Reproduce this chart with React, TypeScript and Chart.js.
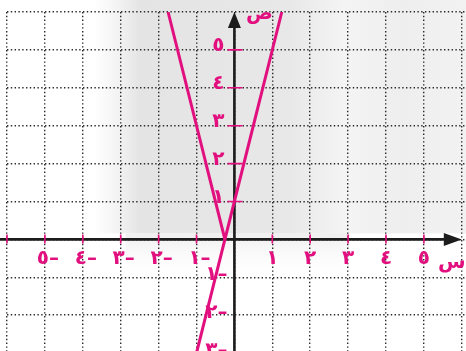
import React, { useEffect, useRef } from "react";
import { Chart, registerables } from "chart.js";

Chart.register(...registerables);

// ---- data ----
const X_MIN = -6;
const X_MAX = 6.111;
const Y_MIN = -2.945;
const Y_MAX = 6;

// rising line y = 4x + 1
const riseX = [-1, 1.25];
const riseY = [-3, 6];
// falling branch y = -4x - 1 (ends on the x axis)
const fallX = [-1.75, -0.25];
const fallY = [6, 0];

const xTickValues = [-5, -4, -3, -2, -1, 1, 2, 3, 4, 5];
const xTickLabels = ["٥–", "٤–", "٣–", "٢–", "١–", "١", "٢", "٣", "٤", "٥"];
const xTickMarks = [-6, -5, -4, -3, -2, -1, 1, 2, 3, 4, 5];
const yTickValues = [-3, -2, -1, 1, 2, 3, 4, 5];
const yTickLabels = ["٣–", "٢–", "١–", "١", "٢", "٣", "٤", "٥"];
const yTickMarks = [1, 2, 3, 4, 5];
const xAxisName = "س";
const yAxisName = "ص";
const ARROW_AT = 6;

const PINK = "#e2107f";
const AXIS = "#1c1c1c";
const FONT = 'bold 20px "DejaVu Sans", sans-serif';

const backgroundPlugin = {
  id: "bgPhoto",
  beforeDraw(chart: any) {
    const { ctx, width, height } = chart;
    const y0 = chart.scales.y.getPixelForValue(0);
    ctx.save();
    ctx.fillStyle = "#ffffff";
    ctx.fillRect(0, 0, width, height);
    const g = ctx.createLinearGradient(0, 0, width, 0);
    g.addColorStop(0, "rgba(236,236,236,0)");
    g.addColorStop(0.2, "rgba(236,236,236,0)");
    g.addColorStop(0.3, "rgba(228,228,228,1)");
    g.addColorStop(0.62, "rgba(232,232,232,1)");
    g.addColorStop(0.74, "rgba(244,244,244,1)");
    g.addColorStop(0.86, "rgba(238,238,238,1)");
    g.addColorStop(1, "rgba(242,242,242,1)");
    ctx.fillStyle = g;
    ctx.fillRect(0, 0, width, y0 - 6);
    const g2 = ctx.createLinearGradient(0, y0 - 6, 0, y0 + 40);
    g2.addColorStop(0, "rgba(238,236,236,0.9)");
    g2.addColorStop(1, "rgba(255,255,255,0)");
    ctx.fillStyle = g2;
    ctx.fillRect(width * 0.27, y0 - 6, width * 0.48, 46);
    ctx.restore();
  },
};

const axesPlugin = {
  id: "centerAxes",
  beforeDatasetsDraw(chart: any) {
    const { ctx, height } = chart;
    const xs = chart.scales.x;
    const ys = chart.scales.y;
    const ox = xs.getPixelForValue(0);
    const oy = ys.getPixelForValue(0);
    const tipX = xs.getPixelForValue(ARROW_AT);
    const tipY = ys.getPixelForValue(ARROW_AT);
    ctx.save();
    ctx.strokeStyle = AXIS;
    ctx.lineWidth = 2.6;
    ctx.beginPath();
    ctx.moveTo(0, oy);
    ctx.lineTo(tipX - 14, oy);
    ctx.moveTo(ox, height);
    ctx.lineTo(ox, tipY + 14);
    ctx.stroke();
    ctx.fillStyle = AXIS;
    ctx.beginPath();
    ctx.moveTo(tipX, oy);
    ctx.lineTo(tipX - 18, oy - 6.5);
    ctx.lineTo(tipX - 18, oy + 6.5);
    ctx.closePath();
    ctx.fill();
    ctx.beginPath();
    ctx.moveTo(ox, tipY);
    ctx.lineTo(ox - 6.5, tipY + 16);
    ctx.lineTo(ox + 6.5, tipY + 16);
    ctx.closePath();
    ctx.fill();
    ctx.strokeStyle = PINK;
    ctx.lineWidth = 1.6;
    ctx.beginPath();
    xTickMarks.forEach((v) => {
      const px = xs.getPixelForValue(v);
      ctx.moveTo(px, oy - 5);
      ctx.lineTo(px, oy + 4);
    });
    yTickMarks.forEach((v) => {
      const py = ys.getPixelForValue(v);
      ctx.moveTo(ox - 7, py);
      ctx.lineTo(ox + 8, py);
    });
    ctx.stroke();
    ctx.restore();
  },
  afterDatasetsDraw(chart: any) {
    const { ctx } = chart;
    const xs = chart.scales.x;
    const ys = chart.scales.y;
    const ox = xs.getPixelForValue(0);
    const oy = ys.getPixelForValue(0);
    ctx.save();
    ctx.direction = "ltr";
    ctx.fillStyle = PINK;
    ctx.font = FONT;
    ctx.textBaseline = "middle";
    xTickValues.forEach((v, i) => {
      const px = xs.getPixelForValue(v);
      ctx.textAlign = "center";
      ctx.fillText(xTickLabels[i], v < 0 ? px + 3 : px, oy + 19);
    });
    yTickValues.forEach((v, i) => {
      const py = ys.getPixelForValue(v);
      if (v < 0) {
        ctx.textAlign = "right";
        ctx.fillText(yTickLabels[i], ox - 7, py - 2);
      } else {
        ctx.textAlign = "center";
        ctx.fillText(yTickLabels[i], ox - 16, py - 4);
      }
    });
    ctx.font = 'bold 20px "DejaVu Sans", sans-serif';
    ctx.textAlign = "center";
    ctx.fillText(yAxisName, ox + 25, ys.getPixelForValue(ARROW_AT) + 2);
    ctx.fillText(xAxisName, xs.getPixelForValue(ARROW_AT) - 10, oy + 23);
    ctx.restore();
  },
};

export default function App() {
  const ref = useRef<HTMLCanvasElement | null>(null);

  useEffect(() => {
    document.body.style.margin = "0";
    const canvas = ref.current;
    if (!canvas) return;
    const toPoints = (xs: number[], ys: number[]) => xs.map((x, i) => ({ x, y: ys[i] }));
    const gridOpts = {
      color: "#2a2a2a",
      lineWidth: 1.4,
      drawTicks: false,
    };
    const chart = new Chart(canvas, {
      type: "scatter",
      data: {
        datasets: [
          {
            data: toPoints(riseX, riseY),
            showLine: true,
            borderColor: PINK,
            borderWidth: 3,
            pointRadius: 0,
            borderCapStyle: "butt",
          },
          {
            data: toPoints(fallX, fallY),
            showLine: true,
            borderColor: PINK,
            borderWidth: 3,
            pointRadius: 0,
            borderCapStyle: "butt",
          },
        ],
      },
      options: {
        responsive: false,
        maintainAspectRatio: false,
        animation: false,
        devicePixelRatio: 1,
        layout: { padding: { left: 7, top: 12, right: 0, bottom: 0 } },
        plugins: { legend: { display: false }, tooltip: { enabled: false } },
        scales: {
          x: {
            type: "linear",
            min: X_MIN,
            max: X_MAX,
            ticks: { display: false, stepSize: 1, includeBounds: false },
            grid: gridOpts,
            border: { display: false, dash: [1.4, 2.4] },
          },
          y: {
            type: "linear",
            min: Y_MIN,
            max: Y_MAX,
            ticks: { display: false, stepSize: 1, includeBounds: false },
            grid: gridOpts,
            border: { display: false, dash: [1.4, 2.4] },
          },
        },
      } as any,
      plugins: [backgroundPlugin, axesPlugin],
    });
    return () => chart.destroy();
  }, []);

  return (
    <div style={{ width: 466, height: 351 }}>
      <canvas ref={ref} width={466} height={351} style={{ display: "block" }} />
    </div>
  );
}
